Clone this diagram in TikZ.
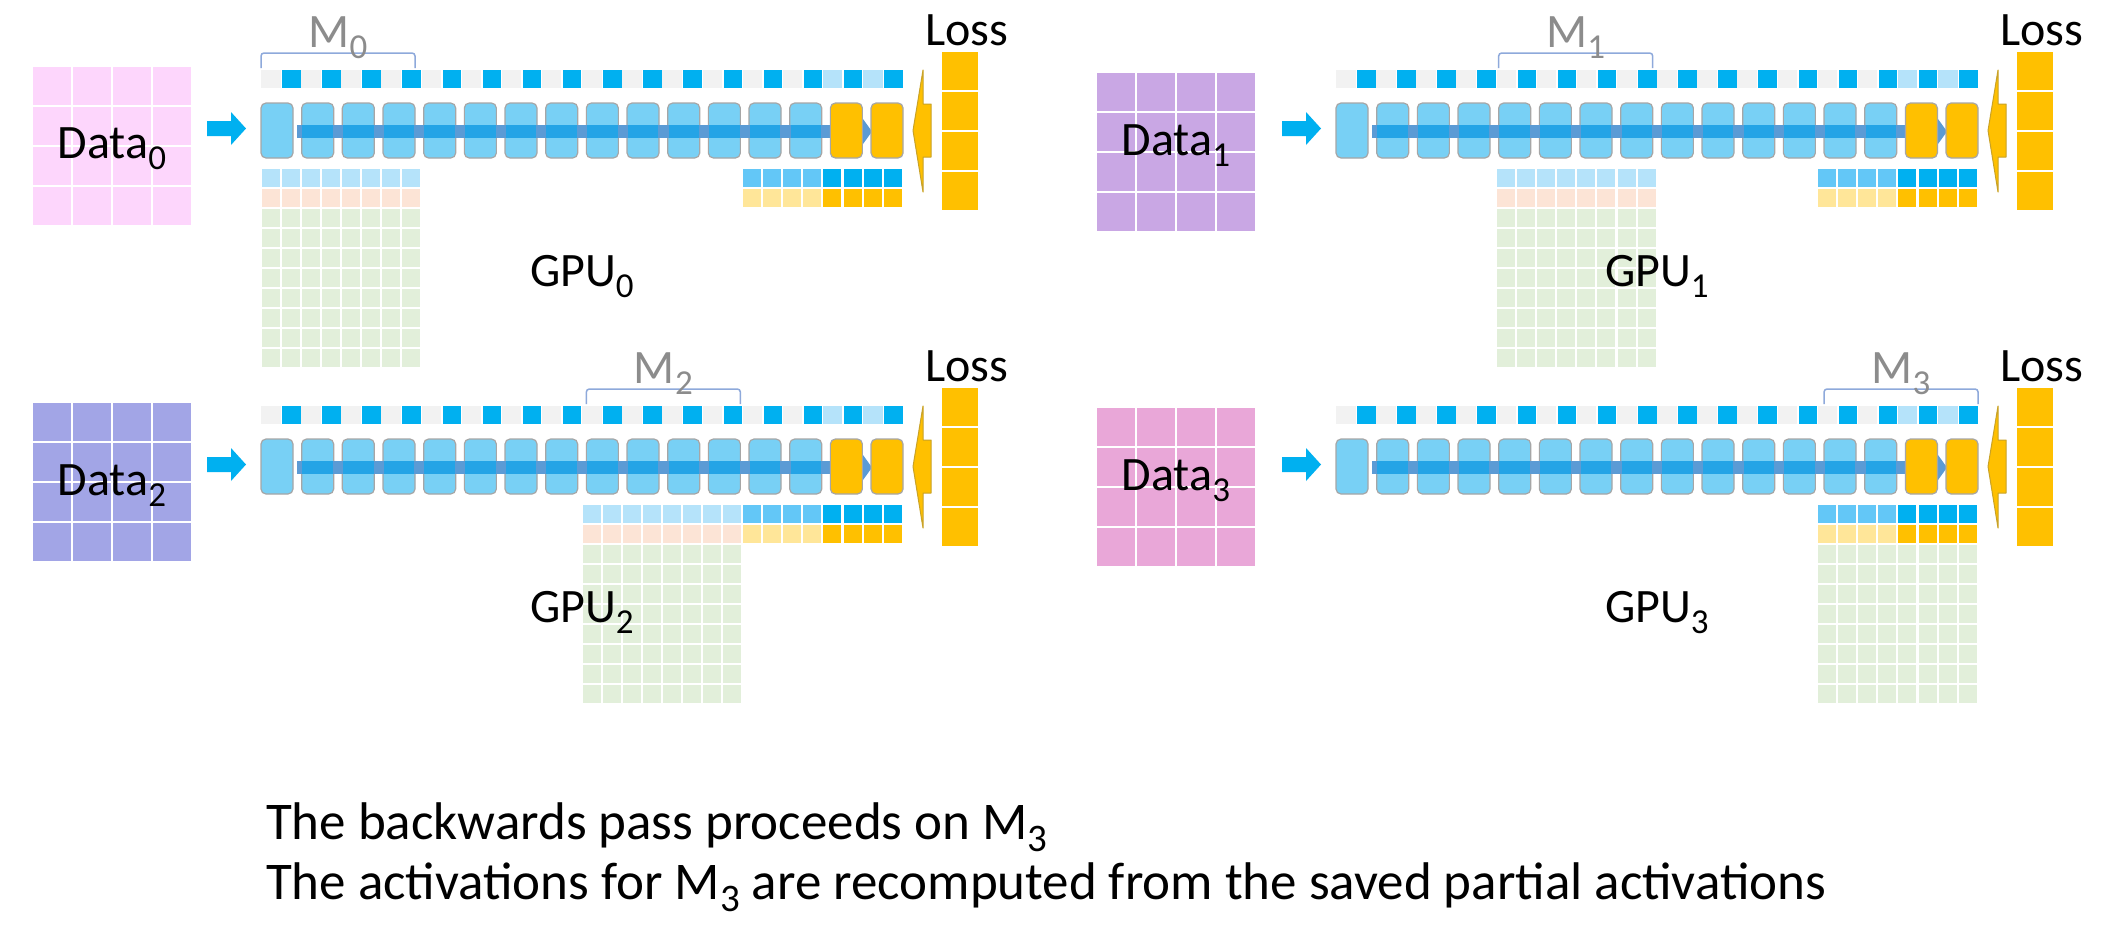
\documentclass[tikz,border=0pt]{standalone}
\usepackage{fontspec}
\setmainfont{Carlito}
\definecolor{stripgray}{HTML}{F2F2F2}
\definecolor{cyanblue}{HTML}{00B0F0}
\definecolor{lightcyan}{HTML}{B5E3FA}
\definecolor{medblue}{HTML}{63C7F7}
\definecolor{boxblue}{HTML}{78D0F5}
\definecolor{boxedge}{HTML}{A6A6A6}
\definecolor{gold}{HTML}{FFC000}
\definecolor{goldedge}{HTML}{C9A227}
\definecolor{lightgold}{HTML}{FFE699}
\definecolor{peach}{HTML}{FCE4D6}
\definecolor{palegreen}{HTML}{E2EFDA}
\definecolor{bargap}{HTML}{5B9BD5}
\definecolor{barbox}{HTML}{24A4E6}
\definecolor{bracketc}{HTML}{8EA9DB}
\definecolor{mgray}{HTML}{8C8C8C}
\definecolor{dataA}{HTML}{FDD6FC}
\definecolor{dataB}{HTML}{C9A7E4}
\definecolor{dataC}{HTML}{A2A5E6}
\definecolor{dataD}{HTML}{E9A7D8}

\newcommand\lsub[1]{\raisebox{-11.5pt}{\fontsize{35}{35}\selectfont #1}}
\newcommand\bsub[1]{\raisebox{-12.5pt}{\fontsize{39}{39}\selectfont #1}}

\tikzset{
  lbl/.style={inner sep=0pt, outer sep=0pt, font=\fontsize{48}{48}\selectfont},
  mlbl/.style={lbl, text=mgray},
  btxt/.style={inner sep=0pt, outer sep=0pt, font=\fontsize{53}{53}\selectfont},
  bluebox/.style={fill=boxblue, draw=boxedge, line width=1.2pt, rounded corners=5pt},
  goldbox/.style={fill=gold, draw=boxedge, line width=1.2pt, rounded corners=5pt},
  bracketline/.style={draw=bracketc, line width=1.5pt, rounded corners=3pt},
  lossarrow/.style={fill=gold, draw=goldedge, line width=1pt, line join=round},
}

% #1,#2 shift; #3 index; #4 data colour; #5,#6 data grid corner; #7 data label baseline
\newcommand\panel[7]{%
\begin{scope}[shift={(#1,#2)}]
  % data grid
  \foreach \r in {0,...,3}{\foreach \c in {0,...,3}{%
    \fill[#4] ({#5+40*\c},{#6+40*\r}) rectangle ++(38,38);}}
  \node[lbl, anchor=base] (data#3) at ({#5+79},#7) {Data\lsub{#3}};
  % input arrow
  \fill[cyanblue] (207,121) -- (231,121) -- (231,112) -- (246,128.5)
     -- (231,145) -- (231,136) -- (207,136) -- cycle;
  % strip of parameters
  \foreach \i in {0,...,15}{%
    \pgfmathsetmacro\sx{261+40.14*\i}
    \ifnum\i>13 \def\fc{lightcyan}\else\def\fc{stripgray}\fi
    \fill[\fc] (\sx,70) rectangle ++(19.5,17.5);
    \fill[cyanblue] ({\sx+21},70) rectangle ++(18.5,17.5);
  }
  % layer boxes
  \foreach \i in {0,...,13}{%
    \draw[bluebox] ({261+40.67*\i},103) rectangle ++(32,55);}
  % forward bar
  \fill[bargap] (297,125) rectangle (863,138);
  \foreach \i in {1,...,13}{%
    \fill[barbox] ({261+40.67*\i+0.8},125) rectangle ++(30.4,13);}
  \fill[bargap] (863,119) -- (872,131.5) -- (863,144) -- cycle;
  \foreach \i in {14,15}{%
    \draw[goldbox] ({261+40.67*\i},103) rectangle ++(32,55);}
  % bracket and M label
  \pgfmathsetmacro\bl{261+162.68*#3}
  \draw[bracketline] (\bl,68) -- (\bl,53) -- ({\bl+154},53) -- ({\bl+154},68);
  \node[mlbl, anchor=base] (m#3) at ({\bl+77},47) {M\lsub{#3}};
  % saved activations
  \pgfmathtruncatemacro\cs{8*#3}
  \foreach \c in {0,...,7}{%
    \pgfmathsetmacro\gx{261+20.07*(\cs+\c)+0.5}
    \fill[lightcyan] (\gx,169) rectangle ++(18,17.5);
    \fill[peach] (\gx,189) rectangle ++(18,17.5);
    \foreach \r in {2,...,9}{%
      \fill[palegreen] (\gx,{169+20*\r}) rectangle ++(18,17.5);}
  }
  \foreach \c in {0,...,3}{%
    \pgfmathsetmacro\gx{261+20.07*(24+\c)+0.5}
    \pgfmathsetmacro\hx{261+20.07*(28+\c)+0.5}
    \fill[medblue] (\gx,169) rectangle ++(18,17.5);
    \fill[lightgold] (\gx,189) rectangle ++(18,17.5);
    \fill[cyanblue] (\hx,169) rectangle ++(18,17.5);
    \fill[gold] (\hx,189) rectangle ++(18,17.5);
  }
  % loss
  \draw[lossarrow] (931,104) -- (923,104) -- (923,70) -- (913,130.5)
     -- (923,192) -- (923,157) -- (931,157) -- cycle;
  \foreach \j in {0,...,3}{%
    \fill[gold] (942,{52+40*\j}) rectangle ++(36,38);}
  \node[lbl, anchor=base west] (loss#3) at (925,45) {Loss};
  \node[lbl, anchor=base west] (gpu#3) at (530,286) {GPU\lsub{#3}};
\end{scope}}

\begin{document}
\begin{tikzpicture}[x=1pt,y=-1pt]
  \useasboundingbox (0,0) rectangle (2128,946);
  \fill[white] (0,0) rectangle (2128,946);
  \panel{0}{0}{0}{dataA}{33}{67}{158}
  \panel{1075}{0}{1}{dataB}{22}{73}{155}
  \panel{0}{336}{2}{dataC}{33}{67}{159}
  \panel{1075}{336}{3}{dataD}{22}{72}{154}
  \node[btxt, anchor=base west] (line1) at (266,839) {The backwards pass proceeds on M\bsub{3}};
  \node[btxt, anchor=base west] (line2) at (266,899) {The activations for M\bsub{3} are recomputed from the saved partial activations};
\end{tikzpicture}
\end{document}
